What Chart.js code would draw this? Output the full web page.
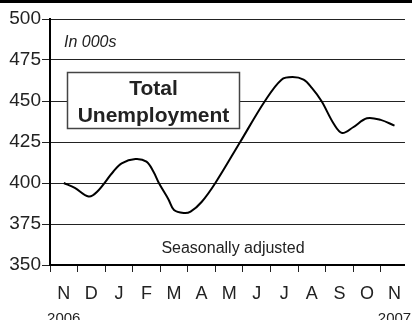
<!DOCTYPE html>
<html>
<head>
<meta charset="utf-8">
<title>Total Unemployment</title>
<script src="https://cdn.jsdelivr.net/npm/chart.js@4/dist/chart.umd.min.js"></script>
<style>
  html, body { margin: 0; padding: 0; background: #fff; }
  #wrap { width: 412px; height: 320px; position: relative; }
</style>
</head>
<body>
<div id="wrap"><canvas id="unemploymentChart"></canvas></div>
<script>
// ===== Data =====
const monthLabels = ['N', 'D', 'J', 'F', 'M', 'A', 'M', 'J', 'J', 'A', 'S', 'O', 'N'];
const yearLabels = ['2006', '2007'];
// position along the x axis, in months from start of Nov 2006
const pointMonths = [0.5, 0.9, 1.4, 1.7, 2.3, 2.6, 3.1, 3.5, 3.75, 3.95, 4.3, 4.5, 4.85, 5.1, 5.5,
  6.0, 6.9, 7.8, 8.4, 8.8, 9.2, 9.5, 9.85, 10.3, 10.6, 11.0, 11.5, 12.0, 12.5];
// thousands, seasonally adjusted
const unemployment = [400, 397, 391.8, 394.5, 407, 412, 414.6, 413, 407, 400, 390, 383.5, 381.7, 382.5, 388.4,
  400, 425, 450, 463, 464.6, 463, 458, 450, 436, 430.5, 434, 439.5, 438.5, 435];
const yMin = 350;
const yMax = 500;
const yStep = 25;

const FONT = "'Liberation Sans', Arial, Helvetica, sans-serif";
const INK = '#222';

// Extra text/boxes drawn on top of the chart
const annotations = {
  id: 'annotations',
  beforeDraw(chart) {
    const c = chart.ctx;
    c.save();
    c.fillStyle = '#000';
    c.fillRect(0, 0, chart.width, 3);
    c.restore();
  },
  afterDatasetsDraw(chart) {
    const c = chart.ctx;
    const area = chart.chartArea;
    const x = chart.scales.x;
    c.save();

    // "In 000s"
    c.fillStyle = INK;
    c.font = `italic 16px ${FONT}`;
    c.textAlign = 'left';
    c.textBaseline = 'alphabetic';
    c.fillText('In 000s', area.left + 14, 47);

    // title box
    const bx = 67.5, by = 72.5, bw = 172, bh = 56;
    c.fillStyle = '#fff';
    c.fillRect(bx, by, bw, bh);
    c.strokeStyle = '#444';
    c.lineWidth = 1.5;
    c.strokeRect(bx, by, bw, bh);
    c.fillStyle = INK;
    c.font = `bold 21px ${FONT}`;
    c.textAlign = 'center';
    c.fillText('Total', bx + bw / 2, 95);
    c.fillText('Unemployment', bx + bw / 2, 122);

    // "Seasonally adjusted"
    c.font = `16px ${FONT}`;
    c.fillText('Seasonally adjusted', 233, 253);

    // year labels under first and last month
    c.font = `15px ${FONT}`;
    c.fillText(yearLabels[0], x.getPixelForValue(0.5), 323);
    c.fillText(yearLabels[1], x.getPixelForValue(12.5), 323);
    c.restore();
  }
};

const ctx = document.getElementById('unemploymentChart').getContext('2d');
new Chart(ctx, {
  type: 'line',
  data: {
    datasets: [{
      label: 'Total Unemployment',
      data: pointMonths.map((m, i) => ({ x: m, y: unemployment[i] })),
      borderColor: '#000',
      borderWidth: 2,
      fill: false,
      tension: 0.35,
      pointRadius: 0
    }]
  },
  options: {
    responsive: true,
    maintainAspectRatio: false,
    animation: false,
    devicePixelRatio: 1,
    layout: { padding: { top: 19, right: 0, left: 0, bottom: 0 } },
    plugins: {
      legend: { display: false },
      tooltip: { enabled: false },
      title: { display: false }
    },
    scales: {
      x: {
        type: 'linear',
        min: 0,
        max: 12.88,
        afterBuildTicks: (axis) => {
          const t = [];
          for (let i = 0; i <= 25; i++) t.push({ value: i / 2 });
          axis.ticks = t;
        },
        afterFit: (axis) => { axis.height = 55; },
        border: { display: true, color: '#000', width: 2 },
        grid: {
          drawOnChartArea: false,
          drawTicks: true,
          tickLength: 7,
          tickWidth: 1,
          tickColor: (c) => (c.tick && c.tick.value % 1 === 0 ? INK : 'rgba(0,0,0,0)')
        },
        ticks: {
          autoSkip: false,
          maxRotation: 0,
          minRotation: 0,
          padding: 11,
          color: INK,
          font: { family: FONT, size: 18 },
          callback: (value) => (value % 1 === 0 ? '' : monthLabels[Math.floor(value)])
        }
      },
      y: {
        min: yMin,
        max: yMax,
        afterFit: (axis) => { axis.width = 50; },
        border: { display: true, color: '#000', width: 2 },
        grid: {
          color: INK,
          lineWidth: 1,
          drawTicks: true,
          tickLength: 8,
          tickColor: INK
        },
        ticks: {
          stepSize: yStep,
          padding: 1,
          color: INK,
          font: { family: FONT, size: 19 }
        }
      }
    }
  },
  plugins: [annotations]
});
</script>
</body>
</html>
